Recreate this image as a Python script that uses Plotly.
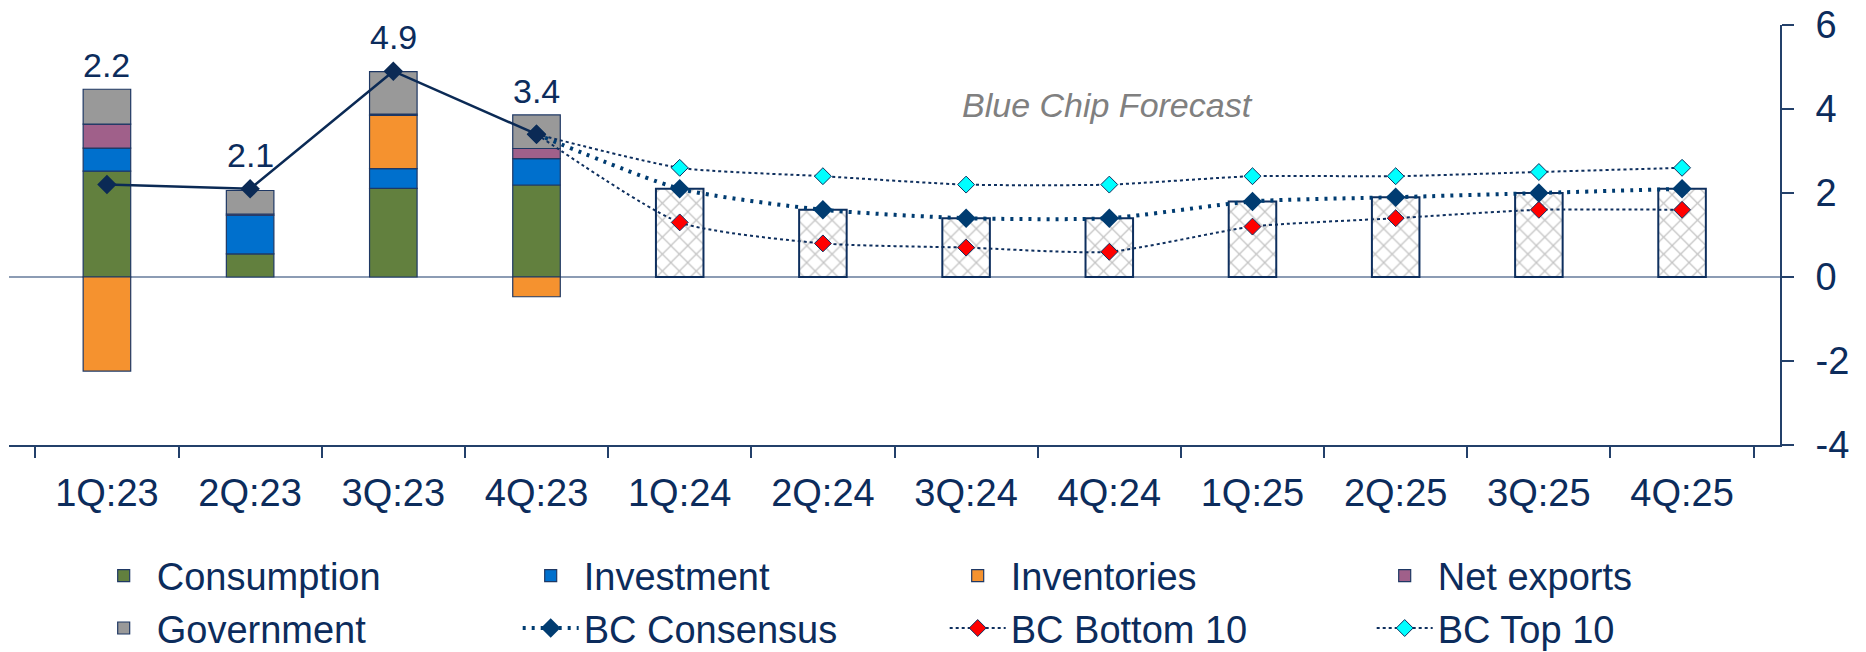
import plotly.graph_objects as go

quarters = ["1Q:23", "2Q:23", "3Q:23", "4Q:23", "1Q:24", "2Q:24", "3Q:24", "4Q:24",
            "1Q:25", "2Q:25", "3Q:25", "4Q:25"]
hist_q = quarters[:4]
fcst_q = quarters[4:]
line_q = quarters[3:]

consumption = [2.52, 0.55, 2.11, 2.19]
investment = [0.55, 0.92, 0.47, 0.63]
inventories = [-2.24, 0.00, 1.27, -0.47]
net_exports = [0.57, 0.03, 0.03, 0.24]
government = [0.83, 0.56, 1.01, 0.80]
gdp_actual = [2.2, 2.1, 4.9, 3.4]

bc_consensus = [3.4, 2.1, 1.6, 1.4, 1.4, 1.8, 1.9, 2.0, 2.1]
bc_bottom10 = [3.4, 1.3, 0.8, 0.7, 0.6, 1.2, 1.4, 1.6, 1.6]
bc_top10 = [3.4, 2.6, 2.4, 2.2, 2.2, 2.4, 2.4, 2.5, 2.6]

y_tickvals = [-4, -2, 0, 2, 4, 6]
y_ticktext = ["-4", "-2", "0", "2", "4", "6"]

# pixel gap of each GDP label above its bar (style)
label_gap = [3, 14, 14, 3]

NAVY = "#0C2C5C"
FONT = "Arial, 'Liberation Sans', sans-serif"

fig = go.Figure()

components = [
    ("Consumption", consumption, "#62803E", 1),
    ("Investment", investment, "#0070CD", 2),
    ("Inventories", inventories, "#F5922F", 3),
    ("Net exports", net_exports, "#A0608A", 4),
    ("Government", government, "#999999", 5),
]
for name, vals, col, rank in components:
    fig.add_trace(go.Bar(
        x=hist_q, y=vals, name=name, legendrank=rank,
        marker=dict(color=col, line=dict(color="#1F3864", width=1.2)),
    ))

# forecast bars (hatched)
fig.add_trace(go.Bar(
    x=fcst_q, y=bc_consensus[1:], name="Forecast", showlegend=False,
    marker=dict(color="white", line=dict(color="#0E2F5E", width=2),
                pattern=dict(shape="x", fgcolor="#8A8A8A", bgcolor="white",
                             size=12, solidity=0.2)),
))

fig.add_trace(go.Scatter(
    x=line_q, y=bc_bottom10, name="BC Bottom 10", legendrank=7,
    mode="lines+markers", line=dict(color="#0E2F5E", width=2, dash="dot",
                                    shape="spline", smoothing=0.6),
    marker=dict(symbol="diamond", size=13, color="#FF0000",
                line=dict(color="#0E2F5E", width=1)),
))
fig.add_trace(go.Scatter(
    x=line_q, y=bc_top10, name="BC Top 10", legendrank=8,
    mode="lines+markers", line=dict(color="#0E2F5E", width=2, dash="dot",
                                    shape="spline", smoothing=0.6),
    marker=dict(symbol="diamond", size=13, color="#00FFFF",
                line=dict(color="#0E2F5E", width=1)),
))
fig.add_trace(go.Scatter(
    x=line_q, y=bc_consensus, name="BC Consensus", legendrank=6,
    mode="lines+markers", line=dict(color="#003C71", width=4, dash="3px,6px",
                                    shape="spline", smoothing=0.6),
    marker=dict(symbol="diamond", size=15, color="#003C71"),
))
fig.add_trace(go.Scatter(
    x=hist_q, y=gdp_actual, name="Real GDP", showlegend=False,
    mode="lines+markers", line=dict(color="#0B2A55", width=2.5),
    marker=dict(symbol="diamond", size=15, color="#0B2A55"),
))

# GDP labels above the positive stacks
for i, q in enumerate(hist_q):
    top = sum(v for v in (consumption[i], investment[i], inventories[i],
                          net_exports[i], government[i]) if v > 0)
    fig.add_annotation(x=q, y=top, text=f"{gdp_actual[i]:.1f}", showarrow=False,
                       yanchor="bottom", yshift=label_gap[i],
                       font=dict(size=34, color=NAVY, family=FONT))

fig.add_annotation(xref="paper", yref="paper", x=0.62, y=0.81,
                   xanchor="center", yanchor="middle",
                   text="<i>Blue Chip Forecast</i>", showarrow=False,
                   font=dict(size=34, color="#808080", family=FONT))

fig.update_layout(
    width=1866, height=652, autosize=False,
    margin=dict(l=9, r=86, t=25, b=207, autoexpand=False),
    paper_bgcolor="white", plot_bgcolor="white",
    barmode="relative", bargap=0.668,
    font=dict(family=FONT, color=NAVY, size=38),
    legend=dict(orientation="h", xref="container", yref="container",
                x=0.0486, y=0.165, xanchor="left", yanchor="top",
                entrywidth=356, entrywidthmode="pixels", itemwidth=56,
                font=dict(size=38, color=NAVY, family=FONT),
                traceorder="normal", tracegroupgap=0, bgcolor="rgba(0,0,0,0)"),
    xaxis=dict(
        categoryorder="array", categoryarray=quarters, automargin=False,
        showline=True, linecolor="#23406A", linewidth=2,
        ticks="outside", ticklen=11, tickcolor="#23406A", tickwidth=2,
        tickson="boundaries", showgrid=False, ticklabelstandoff=13,
        tickfont=dict(size=38, color=NAVY, family=FONT),
    ),
    yaxis=dict(
        side="right", range=[-4, 6], tickvals=y_tickvals, ticktext=y_ticktext,
        automargin=False,
        showline=True, linecolor="#23406A", linewidth=2,
        ticks="outside", ticklen=12, tickcolor="#23406A", tickwidth=2,
        showgrid=False, zeroline=True, zerolinecolor="#8C9CB4", zerolinewidth=2,
        tickfont=dict(size=38, color=NAVY, family=FONT),
        ticklabelstandoff=14,
    ),
)

fig.write_html("out.html")
